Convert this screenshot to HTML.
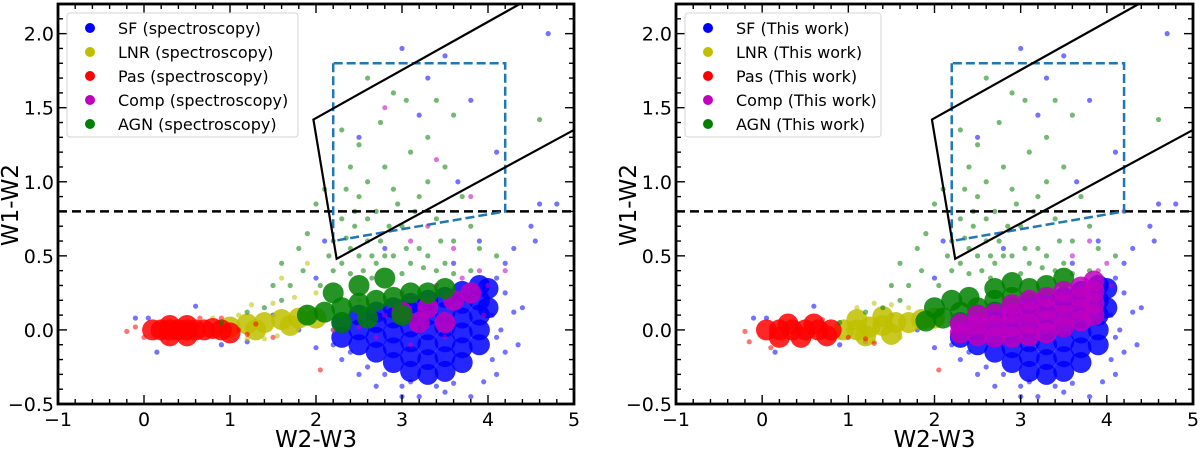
<!DOCTYPE html>
<html><head><meta charset="utf-8">
<style>
html,body{margin:0;padding:0;background:#fff;}
svg{display:block;font-family:"DejaVu Sans","Liberation Sans",sans-serif;}
</style></head>
<body>
<svg id="fig" width="1200" height="453" viewBox="0 0 1200 453" xmlns="http://www.w3.org/2000/svg"></svg>
<script>
// ---- data (W2-W3, W1-W2) ----
const xTicks = [-1,0,1,2,3,4,5];
const yTicks = [-0.5,0.0,0.5,1.0,1.5,2.0];
const yTickLabels = ["\u22120.5","0.0","0.5","1.0","1.5","2.0"];
const xTickLabels = ["\u22121","0","1","2","3","4","5"];
const jarrettBox = [[2.2,1.8],[2.2,0.6],[4.2,0.8],[4.2,1.8]];
const wedge = [[4.37,2.2],[1.97,1.42],[2.24,0.48],[5.0,1.35]];
const agnCut = 0.8;

const sfDense = [[2.3,-0.05],[2.3,0.05],[2.5,-0.1],[2.5,0],[2.5,0.1],[2.7,-0.15],[2.7,-0.05],[2.7,0.05],[2.7,0.12],
[2.9,-0.22],[2.9,-0.12],[2.9,-0.02],[2.9,0.08],[2.9,0.15],[3.1,-0.28],[3.1,-0.18],[3.1,-0.08],[3.1,0.02],[3.1,0.12],[3.1,0.18],
[3.3,-0.3],[3.3,-0.2],[3.3,-0.1],[3.3,0],[3.3,0.1],[3.3,0.2],[3.5,-0.28],[3.5,-0.18],[3.5,-0.08],[3.5,0.02],[3.5,0.12],[3.5,0.22],
[3.7,-0.22],[3.7,-0.12],[3.7,-0.02],[3.7,0.08],[3.7,0.18],[3.7,0.26],[3.9,-0.1],[3.9,0],[3.9,0.1],[3.9,0.2],[3.9,0.3],[4.0,0.15],[4.0,0.28]];
const sfPts = [[0.15,-0.15],[-0.1,0.08],[0.05,0.08],[0.6,0.16],[0.9,-0.1],[1.2,-0.08],[1.5,0.1],[2.3,-0.2],[2.5,-0.3],[2.7,-0.38],[3.0,-0.45],
[3.2,-0.45],[3.5,-0.42],[3.8,-0.45],[4.1,-0.3],[4.2,-0.15],[4.15,0.0],[4.3,0.12],[4.4,0.15],[4.2,0.45],[4.3,0.55],[4.5,0.7],[4.55,0.6],
[4.6,0.85],[4.8,0.85],[4.7,2.0],[4.1,1.2],[3.5,1.85],[3.2,1.45],[3.8,1.55],[2.5,1.3],[3.0,1.9],[2.1,0.6],[2.0,0.35],[2.8,0.55],[3.9,0.6],
[3.6,0.45],[4.35,-0.1],[3.95,-0.35],[2.6,-0.25],[1.8,0.0],[2.0,-0.12],[3.4,-0.38],[3.1,-0.35],[4.05,-0.2],[4.1,0.35],[3.65,1.0],[3.3,1.7],
[2.4,-0.15],[2.2,-0.1],[4.1,-0.05],[4.05,0.1],[3.0,-0.38],[3.6,-0.36],[2.8,-0.3],[4.2,0.25]];

const L_lnrDense = [[1.0,0.02],[1.2,0.04],[1.4,0.05],[1.6,0.07],[1.8,0.08],[2.0,0.08],[1.3,0.0],[1.7,0.03]];
const L_lnrPts = [[1.1,0.1],[1.25,0.17],[1.5,0.18],[1.75,0.22],[2.0,0.25],[1.6,0.35],[1.9,0.45],[1.0,-0.04],[1.4,-0.06],[2.3,0.1],[2.5,0.2],[0.8,0.08],[2.2,0.0],[1.2,-0.06],[1.55,-0.04],[1.9,0.15]];
const R_lnrDense = [[0.95,0.0],[1.1,0.0],[1.25,0.02],[1.4,0.03],[1.55,0.05],[1.7,0.05],[1.85,0.07],[1.1,0.07],[1.4,0.09],[1.2,-0.04],[1.5,-0.03],[2.0,0.08]];
const R_lnrPts = [[1.1,0.15],[1.3,0.18],[1.5,0.17],[1.7,0.15],[0.9,-0.05],[1.6,-0.05],[2.1,0.12],[1.3,-0.08]];

const L_pasDense = [[0.1,0],[0.2,0],[0.3,0],[0.4,0],[0.5,0],[0.6,0],[0.7,0],[0.3,-0.04],[0.5,-0.04],[0.3,0.03],[0.5,0.03],[0.8,0.01],[0.9,0.0],[1.0,-0.02]];
const L_pasPts = [[-0.2,-0.01],[-0.1,0.02],[0,-0.05],[1.1,0.0],[1.2,-0.03],[1.3,0.04],[0.9,0.08],[2.05,-0.27],[1.5,-0.05],[0.65,0.08]];
const R_pasDense = [[0.05,0],[0.2,0],[0.35,0],[0.5,0],[0.65,0],[0.8,0],[0.2,-0.05],[0.45,-0.05],[0.3,0.04],[0.6,0.04],[0.75,-0.04]];
const R_pasPts = [[-0.2,-0.01],[-0.15,-0.08],[0.1,-0.12],[1.0,-0.05],[1.2,-0.06],[1.3,-0.09],[2.05,-0.27],[0.7,0.07]];

const L_compDense = [[3.0,0.12],[3.3,0.15],[3.6,0.2],[3.8,0.25],[3.5,0.05],[3.2,0.05]];
const L_compPts = [[2.2,0.0],[2.5,0.02],[2.8,0.1],[2.7,-0.05],[3.0,0.25],[3.4,0.3],[3.7,0.35],[3.9,0.4],[4.0,0.3],[3.6,0.55],[3.3,0.7],
[3.1,0.6],[3.8,0.9],[3.4,1.15],[2.8,1.5],[4.2,0.4],[3.95,0.1],[3.1,-0.1],[3.5,-0.05]];
const R_compDense = [[2.3,-0.02],[2.3,0.04],[2.5,-0.04],[2.5,0.04],[2.5,0.1],[2.7,-0.05],[2.7,0.03],[2.7,0.11],
[2.9,-0.05],[2.9,0.03],[2.9,0.11],[2.9,0.17],[3.1,-0.04],[3.1,0.04],[3.1,0.12],[3.1,0.2],[3.3,-0.02],[3.3,0.06],[3.3,0.14],[3.3,0.22],
[3.5,0.02],[3.5,0.1],[3.5,0.18],[3.5,0.26],[3.7,0.06],[3.7,0.14],[3.7,0.22],[3.7,0.29],[3.85,0.1],[3.85,0.18],[3.85,0.26],[3.85,0.33]];
const R_compPts = [[3.9,0.4],[4.0,0.45],[3.6,0.5],[4.2,0.8],[3.8,0.6],[2.2,0.05],[4.05,0.3]];

const L_agnDense = [[1.9,0.1],[2.1,0.12],[2.3,0.15],[2.5,0.18],[2.7,0.2],[2.9,0.22],[3.1,0.25],[3.3,0.25],[2.5,0.3],[2.8,0.35],[2.3,0.05],[2.6,0.08],[3.0,0.1],[3.5,0.28],[2.2,0.25]];
const R_agnDense = [[1.9,0.06],[2.1,0.08],[2.3,0.12],[2.5,0.15],[2.7,0.2],[2.9,0.22],[3.1,0.28],[2.4,0.22],[2.7,0.28],[3.3,0.3],[2.0,0.15],[2.2,0.2],[2.9,0.32],[3.5,0.35]];
const agnPts = [[1.5,0.3],[1.6,0.45],[1.8,0.55],[1.9,0.65],[2.0,0.85],[2.1,0.95],[1.85,0.4],[2.2,0.6],[2.3,0.75],[2.4,0.55],[2.5,0.9],
[2.6,1.0],[2.7,0.8],[2.8,1.1],[2.9,0.95],[3.0,0.7],[3.1,1.2],[3.2,0.9],[3.3,1.0],[3.4,0.75],[3.5,1.1],[3.6,0.6],[3.7,0.9],[3.8,0.7],
[3.9,0.55],[2.5,1.25],[2.75,1.4],[3.05,1.55],[3.3,1.3],[3.6,1.45],[2.4,1.1],[2.3,1.35],[2.9,1.6],[2.2,0.4],[2.6,0.6],[2.9,0.5],
[3.2,0.55],[3.5,0.45],[3.8,0.4],[2.05,0.3],[2.7,0.45],[3.0,0.38],[3.4,0.4],[1.4,0.15],[1.6,0.2],[2.45,0.7],[2.85,0.7],[3.15,0.8],
[4.1,0.5],[4.6,1.42],[0.9,0.05],[1.2,0.12],[2.6,1.7],[3.4,1.55],[2.35,0.95],[2.65,0.5],[3.3,0.5],[1.7,0.3],
[2.3,0.45],[2.5,0.5],[2.55,0.4],[2.8,0.5],[3.1,0.45],[3.25,0.42],[2.4,0.38],[2.75,0.6],[3.05,0.55],[2.15,0.5],[2.65,0.35],[3.6,0.38],
[2.45,0.8],[2.95,0.85],[3.45,0.6],[2.6,0.75],[2.35,0.62]];

const legendLabelsL = ["SF (spectroscopy)","LNR (spectroscopy)","Pas (spectroscopy)","Comp (spectroscopy)","AGN (spectroscopy)"];
const legendLabelsR = ["SF (This work)","LNR (This work)","Pas (This work)","Comp (This work)","AGN (This work)"];

const COLORS = {sf:"#0000ff", lnr:"#bfbf00", pas:"#ff0000", comp:"#bf00bf", agn:"#008000"};
const NS = "http://www.w3.org/2000/svg";
const svg = document.getElementById("fig");
function mk(tag, attrs, parent){
  const e = document.createElementNS(NS, tag);
  for (const k in attrs) e.setAttribute(k, attrs[k]);
  (parent||svg).appendChild(e);
  return e;
}

function panel(side, x0, x1, legendW, labels, series){
  const yT = 4, yB = 404;
  const sx = v => x0 + (v + 1) / 6 * (x1 - x0);
  const sy = v => yB - (v + 0.5) / 2.7 * (yB - yT);
  const g = mk("g", {});
  
  
  const clipId = "clip-" + side;
  const cp = mk("clipPath", {id: clipId}, g);
  mk("rect", {x: x0, y: yT, width: x1 - x0, height: yB - yT}, cp);
  const plot = mk("g", {"clip-path": "url(#" + clipId + ")"}, g);

  series.forEach(s => {
    const sg = mk("g", {fill: COLORS[s.key]}, plot);
    
    
    s.dense.forEach(p => {
      const c = mk("circle", {cx: sx(p[0]), cy: sy(p[1]), r: 10.5, "fill-opacity": 0.85}, sg);
      
      
    });
    s.pts.forEach(p => {
      const c = mk("circle", {cx: sx(p[0]), cy: sy(p[1]), r: 2.6, "fill-opacity": 0.55}, sg);
      
      
    });
  });

  const hl = mk("line", {x1: x0, x2: x1, y1: sy(agnCut), y2: sy(agnCut), stroke: "#000", "stroke-width": 2.5, "stroke-dasharray": "9,5"}, plot);
  
  
  const jb = mk("polygon", {points: jarrettBox.map(p => sx(p[0]) + "," + sy(p[1])).join(" "), fill: "none", stroke: "#1f77b4", "stroke-width": 2.5, "stroke-dasharray": "9,4"}, plot);
  
  
  const wd = mk("polyline", {points: wedge.map(p => sx(p[0]) + "," + sy(p[1])).join(" "), fill: "none", stroke: "#000", "stroke-width": 2.2}, plot);
  
  

  const tk = mk("g", {stroke: "#000", "stroke-width": 1.4}, g);
  
  
  for (let i = 0; i <= 30; i++) {
    const v = -1 + i * 0.2, X = sx(v), L = (i % 5 === 0) ? 9 : 5;
    mk("line", {x1: X, x2: X, y1: yB, y2: yB - L}, tk);
    mk("line", {x1: X, x2: X, y1: yT, y2: yT + L}, tk);
  }
  for (let i = 0; i <= 27; i++) {
    const v = -0.5 + i * 0.1, Y = sy(v), L = (i % 5 === 0) ? 9 : 5;
    mk("line", {x1: x0, x2: x0 + L, y1: Y, y2: Y}, tk);
    mk("line", {x1: x1, x2: x1 - L, y1: Y, y2: Y}, tk);
  }
  const fr = mk("rect", {x: x0, y: yT, width: x1 - x0, height: yB - yT, fill: "none", stroke: "#000", "stroke-width": 2.8}, g);
  
  

  xTicks.forEach((v, i) => {
    const t = mk("text", {x: sx(v), y: yB + 22, "font-size": 19, "text-anchor": "middle"}, g);
    t.textContent = xTickLabels[i];
    
    
  });
  yTicks.forEach((v, i) => {
    const t = mk("text", {x: x0 - 4, y: sy(v) + 7, "font-size": 19, "text-anchor": "end"}, g);
    t.textContent = yTickLabels[i];
    
    
  });
  const xt = mk("text", {x: (x0 + x1) / 2, y: 447, "font-size": 23, "text-anchor": "middle"}, g);
  xt.textContent = "W2-W3";
  
  
  const yx = x0 - 40, yy = 205;
  const yt = mk("text", {x: yx, y: yy, "font-size": 23, "text-anchor": "middle", transform: "rotate(-90 " + yx + " " + yy + ")"}, g);
  yt.textContent = "W1-W2";
  
  

  const lg = mk("g", {}, g);
  
  
  mk("rect", {x: x0 + 9, y: 13, width: legendW, height: 124, rx: 3, fill: "#fff", "fill-opacity": 0.8, stroke: "#d6d6d6", "stroke-width": 1}, lg);
  ["sf","lnr","pas","comp","agn"].forEach((k, i) => {
    const Y = 28 + i * 24;
    const e = mk("g", {}, lg);
    
    
    mk("circle", {cx: x0 + 32, cy: Y, r: 5, fill: COLORS[k]}, e);
    const t = mk("text", {x: x0 + 60, y: Y + 6, "font-size": 16}, e);
    t.textContent = labels[i];
  });
}

panel("left", 58, 574, 231, legendLabelsL, [
  {key: "sf", dense: sfDense, pts: sfPts},
  {key: "lnr", dense: L_lnrDense, pts: L_lnrPts},
  {key: "pas", dense: L_pasDense, pts: L_pasPts},
  {key: "comp", dense: L_compDense, pts: L_compPts},
  {key: "agn", dense: L_agnDense, pts: agnPts}
]);
panel("right", 676, 1193, 196, legendLabelsR, [
  {key: "sf", dense: sfDense, pts: sfPts},
  {key: "lnr", dense: R_lnrDense, pts: R_lnrPts},
  {key: "pas", dense: R_pasDense, pts: R_pasPts},
  {key: "agn", dense: R_agnDense, pts: agnPts},
  {key: "comp", dense: R_compDense, pts: R_compPts}
]);
</script>
</body></html>
